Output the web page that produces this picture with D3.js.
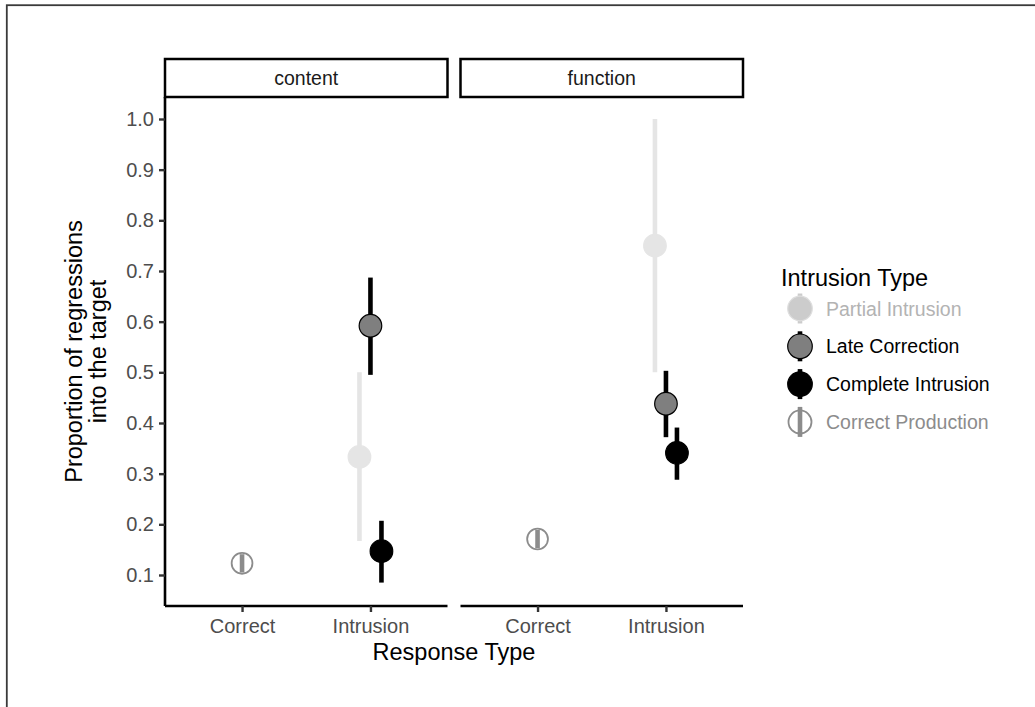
<!DOCTYPE html>
<html>
<head>
<meta charset="utf-8">
<script src="https://cdn.jsdelivr.net/npm/d3@7"></script>
<style>
  html, body { margin: 0; padding: 0; background: #fff; }
  svg { display: block; font-family: "Liberation Sans", Arial, Helvetica, sans-serif; }
</style>
</head>
<body>
<div id="chart"></div>
<script>
// --------------------------------------
//  Data
// --------------------------------------

const facets = ["content", "function"];
const responseTypes = ["Correct", "Intrusion"];
const intrusionTypes = ["Partial Intrusion", "Late Correction", "Complete Intrusion", "Correct Production"];
const typeResponse = ["Intrusion", "Intrusion", "Intrusion", "Correct"];

// values per intrusion type, same order as intrusionTypes
const contentMean  = [0.333, 0.592, 0.147, 0.123];
const contentLower = [0.167, 0.495, 0.085, 0.105];
const contentUpper = [0.500, 0.687, 0.207, 0.141];
const functionMean  = [0.750, 0.438, 0.341, 0.171];
const functionLower = [0.500, 0.372, 0.288, 0.153];
const functionUpper = [1.000, 0.503, 0.391, 0.189];

const yTicks = [0.1, 0.2, 0.3, 0.4, 0.5, 0.6, 0.7, 0.8, 0.9, 1.0];

const rows = [];
[[contentMean, contentLower, contentUpper], [functionMean, functionLower, functionUpper]]
  .forEach(([m, lo, hi], f) => {
    intrusionTypes.forEach((t, i) => {
      rows.push({ facet: facets[f], response: typeResponse[i], type: t, mean: m[i], lo: lo[i], hi: hi[i] });
    });
  });

// --------------------------------------
//  Canvas
// --------------------------------------

const W = 1035, H = 707;
const panelTop = 97, panelBottom = 606;
const stripTop = 59;

const svg = d3.select("#chart").append("svg")
  .attr("width", W)
  .attr("height", H);

svg.append("rect")
  .attr("x", 6.8).attr("y", 5.2)
  .attr("width", 2000).attr("height", 2000)
  .attr("fill", "none")
  .attr("stroke", "#3a3a3a")
  .attr("stroke-width", 1.8);

// --------------------------------------
//  Scales
// --------------------------------------

const fx = d3.scaleBand().domain(facets).range([165, 743]).paddingInner(0.044);
const x = d3.scalePoint().domain(responseTypes).range([0, fx.bandwidth()]).padding(0.6);
const dodge = d3.scalePoint().domain(intrusionTypes.slice(0, 3)).range([-11, 11]);
const y = d3.scaleLinear().domain([0.0388, 1.0434]).range([panelBottom, panelTop]);

const lineColor = d3.scaleOrdinal().domain(intrusionTypes).range(["#e5e5e5", "#000000", "#000000", "#8c8c8c"]);
const fillColor = d3.scaleOrdinal().domain(intrusionTypes).range(["#e5e5e5", "#7f7f7f", "#000000", "none"]);
const strokeColor = d3.scaleOrdinal().domain(intrusionTypes).range(["#e5e5e5", "#000000", "#000000", "#8c8c8c"]);

const px = d => fx(d.facet) + x(d.response) + (d.response === "Intrusion" ? dodge(d.type) : 0);

// --------------------------------------
//  Panels
// --------------------------------------

const panel = svg.selectAll("g.panel")
  .data(facets)
  .join("g")
  .attr("class", "panel")
  .attr("transform", d => `translate(${fx(d)},0)`);

// strips
panel.append("rect")
  .attr("x", 0).attr("y", stripTop)
  .attr("width", fx.bandwidth()).attr("height", panelTop - stripTop)
  .attr("fill", "#fff")
  .attr("stroke", "#000")
  .attr("stroke-width", 2.5);

panel.append("text")
  .attr("x", fx.bandwidth() / 2)
  .attr("y", (stripTop + panelTop) / 2)
  .attr("dy", "0.36em")
  .attr("text-anchor", "middle")
  .attr("font-size", 19.5)
  .attr("fill", "#1a1a1a")
  .text(d => d);

// x axes
panel.each(function() {
  const g = d3.select(this).append("g")
    .attr("transform", `translate(0,${panelBottom})`)
    .call(d3.axisBottom(x).tickSize(6).tickPadding(6));
  g.select(".domain").attr("d", `M0,0H${fx.bandwidth()}`).attr("stroke", "#000").attr("stroke-width", 2.6);
  g.selectAll(".tick line").attr("stroke", "#333").attr("stroke-width", 2.4);
  g.selectAll(".tick text")
    .attr("font-size", 20)
    .attr("font-family", "Liberation Sans, Arial, sans-serif")
    .attr("fill", "#4d4d4d")
    .attr("y", 13)
    .attr("dy", "0.71em");
});

// y axis on first panel only
const ya = svg.append("g")
  .attr("transform", `translate(${fx(facets[0])},0)`)
  .call(d3.axisLeft(y).tickValues(yTicks).tickFormat(d3.format(".1f")).tickSize(6).tickPadding(5));
ya.select(".domain").attr("d", `M0,${panelTop}V${panelBottom}`).attr("stroke", "#000").attr("stroke-width", 2.6);
ya.selectAll(".tick line").attr("stroke", "#333").attr("stroke-width", 2.4);
ya.selectAll(".tick text")
  .attr("font-size", 20)
  .attr("font-family", "Liberation Sans, Arial, sans-serif")
  .attr("fill", "#4d4d4d");

// --------------------------------------
//  Point ranges
// --------------------------------------

const marks = svg.append("g");

marks.selectAll("line.range")
  .data(rows)
  .join("line")
  .attr("class", "range")
  .attr("x1", px).attr("x2", px)
  .attr("y1", d => y(d.lo)).attr("y2", d => y(d.hi))
  .attr("stroke", d => lineColor(d.type))
  .attr("stroke-width", 4.6);

marks.selectAll("circle.pt")
  .data(rows)
  .join("circle")
  .attr("class", "pt")
  .attr("cx", px)
  .attr("cy", d => y(d.mean))
  .attr("r", d => d.type === "Correct Production" ? 10.4 : 11.3)
  .attr("fill", d => fillColor(d.type))
  .attr("stroke", d => strokeColor(d.type))
  .attr("stroke-width", d => d.type === "Correct Production" ? 1.8 : 1.2);

// --------------------------------------
//  Axis titles
// --------------------------------------

svg.append("text")
  .attr("x", (fx(facets[0]) + fx(facets[1]) + fx.bandwidth()) / 2)
  .attr("y", 660)
  .attr("text-anchor", "middle")
  .attr("font-size", 23.5)
  .attr("fill", "#000")
  .text("Response Type");

const yTitle = svg.append("text")
  .attr("transform", `translate(88,${(panelTop + panelBottom) / 2}) rotate(-90)`)
  .attr("text-anchor", "middle")
  .attr("font-size", 23.5)
  .attr("fill", "#000");
yTitle.append("tspan").attr("x", 0).attr("y", -6).text("Proportion of regressions");
yTitle.append("tspan").attr("x", 0).attr("y", 18).text("into the target");

// --------------------------------------
//  Legend
// --------------------------------------

const legendText = ["#b3b3b3", "#000000", "#000000", "#8c8c8c"];
const legendFill = ["#cccccc", "#7f7f7f", "#000000", "none"];
const legendLine = ["#cccccc", "#000000", "#000000", "#8c8c8c"];
const legendStroke = ["#dedede", "#000000", "#000000", "#8c8c8c"];

const legend = svg.append("g").attr("transform", "translate(781,0)");

legend.append("text")
  .attr("x", 0).attr("y", 286)
  .attr("font-size", 23.5)
  .attr("fill", "#000")
  .text("Intrusion Type");

const item = legend.selectAll("g.item")
  .data(intrusionTypes)
  .join("g")
  .attr("class", "item")
  .attr("transform", (d, i) => `translate(19,${308.5 + i * 37.8})`);

item.append("line")
  .attr("x1", 0).attr("x2", 0)
  .attr("y1", -15).attr("y2", 15)
  .attr("stroke", (d, i) => legendLine[i])
  .attr("stroke-width", 4.6);

item.append("circle")
  .attr("r", (d, i) => i === 3 ? 11.5 : 12.3)
  .attr("fill", (d, i) => legendFill[i])
  .attr("stroke", (d, i) => legendStroke[i])
  .attr("stroke-width", (d, i) => i === 3 ? 1.8 : 1.2);

item.append("text")
  .attr("x", 26)
  .attr("dy", "0.36em")
  .attr("font-size", 19.5)
  .attr("fill", (d, i) => legendText[i])
  .text(d => d);
</script>
</body>
</html>
